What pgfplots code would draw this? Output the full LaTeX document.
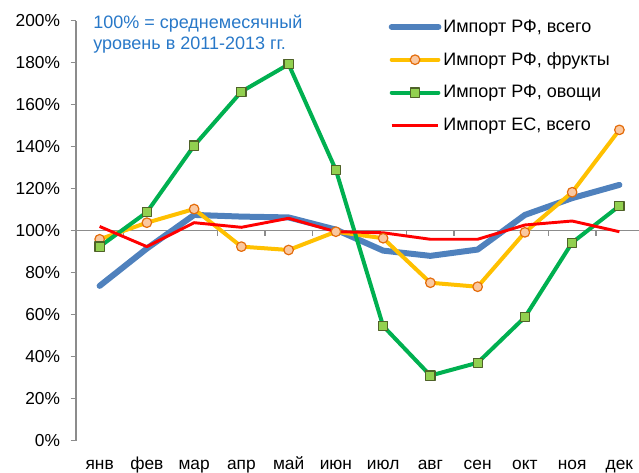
\documentclass[border=0pt]{standalone}
\usepackage{fontspec}
\setmainfont{Liberation Sans}
\usepackage{pgfplots}
\pgfplotsset{compat=1.18}
\definecolor{rfblue}{RGB}{79,129,189}
\definecolor{fruitline}{RGB}{255,192,0}
\definecolor{fruitfill}{RGB}{250,200,160}
\definecolor{fruitdraw}{RGB}{228,108,10}
\definecolor{vegline}{RGB}{0,176,80}
\definecolor{vegfill}{RGB}{146,208,80}
\definecolor{vegdraw}{RGB}{79,98,40}
\definecolor{eured}{RGB}{255,0,0}
\definecolor{axgray}{RGB}{140,140,140}
\definecolor{annblue}{RGB}{40,120,200}
\begin{document}
\begin{tikzpicture}[font=\fontsize{13}{15.5}\selectfont]
\path[use as bounding box] (-57pt,-23.5pt) rectangle (422.25pt,330.5pt);
\begin{axis}[
  scale only axis, width=422.25pt, height=315pt,
  xmin=-0.5, xmax=11.415, ymin=0, ymax=200,
  clip=false,
  axis x line*=bottom, axis y line*=left,
  axis line style={-, axgray, line width=1.2pt},
  x axis line style={draw=none},
  xtick={0,...,11},
  xticklabels={янв,фев,мар,апр,май,июн,июл,авг,сен,окт,ноя,дек},
  xtick style={draw=none},
  typeset ticklabels with strut,
  xticklabel style={yshift=-3pt},
  ytick={0,20,...,200},
  yticklabel={\pgfmathprintnumber{\tick}\%},
  /pgf/number format/assume math mode=true,
  tick align=outside,
  ytick style={axgray, line width=1.2pt},
  major tick length=4pt,
  yticklabel style={xshift=-4.5pt},
  legend style={at={(rel axis cs:0.555,1.008)}, anchor=north west, draw=none, fill=none,
    inner sep=0pt, row sep=10.6pt, nodes={inner sep=1.5pt}, font=\fontsize{13.5}{16}\selectfont},
  legend cell align=left,
  legend image code/.code={\draw[mark repeat=2,mark phase=2,#1] plot coordinates {(0pt,0pt) (17.5pt,0pt) (35pt,0pt)};},
]
\draw[axgray, line width=1.1pt] (axis cs:-0.5,100) -- (axis cs:11.415,100);
\pgfplotsinvokeforeach{0.5,1.5,2.5,3.5,4.5,5.5,6.5,7.5,8.5,9.5,10.5}{
  \draw[axgray, line width=1.1pt] (axis cs:#1,100) -- ++(0pt,-4pt);
}
\addplot[rfblue, line width=4.5pt, line cap=round, line join=round] coordinates {
 (0,73.7) (1,91.5) (2,107.5) (3,106.7) (4,106.3) (5,100.5) (6,90.5) (7,88) (8,91) (9,107.5) (10,115.5) (11,121.8)};
\addlegendentry{Импорт РФ, всего}
\addplot[fruitline, line width=3pt, line cap=round, line join=round, mark=*, mark size=3.6pt,
  mark options={fill=fruitfill, draw=fruitdraw, line width=0.9pt}] coordinates {
 (0,95.9) (1,103.8) (2,110.3) (3,92.4) (4,90.8) (5,99.5) (6,96.4) (7,75.2) (8,73.3) (9,99.2) (10,118.3) (11,148)};
\addlegendentry{Импорт РФ, фрукты}
\addplot[vegline, line width=3pt, line cap=round, line join=round, mark=square*, mark size=3.4pt,
  mark options={fill=vegfill, draw=vegdraw, line width=0.9pt}] coordinates {
 (0,92.4) (1,108.8) (2,140.5) (3,166.2) (4,179.2) (5,128.9) (6,54.6) (7,31) (8,37.1) (9,58.8) (10,94.3) (11,111.8)};
\addlegendentry{Импорт РФ, овощи}
\addplot[eured, line width=2.2pt, line join=round] coordinates {
 (0,102) (1,92.4) (2,103.8) (3,101.6) (4,105.9) (5,99.5) (6,99) (7,95.9) (8,95.9) (9,102.7) (10,104.6) (11,99.5)};
\addlegendentry{Импорт ЕС, всего}
\node[anchor=base west, inner sep=0pt, text=annblue, font=\fontsize{13.5}{16}\selectfont] at (rel axis cs:0.0302,0.981) {100\% = среднемесячный};
\node[anchor=base west, inner sep=0pt, text=annblue, font=\fontsize{13.5}{16}\selectfont] at (rel axis cs:0.0302,0.931) {уровень в 2011-2013 гг.};
\end{axis}
\end{tikzpicture}
\end{document}
